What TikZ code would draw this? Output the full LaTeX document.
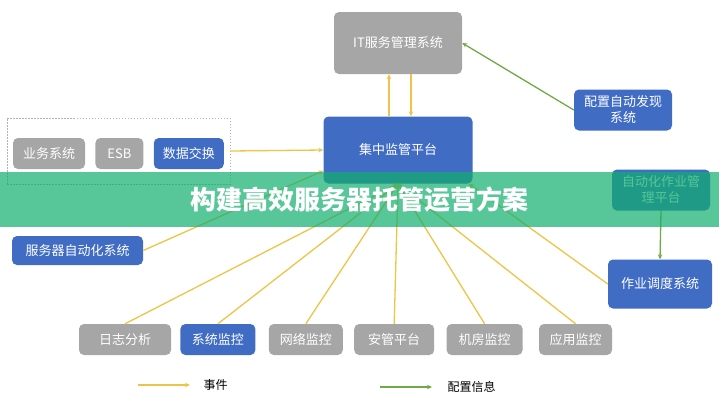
\documentclass[tikz,border=0pt]{standalone}
\usepackage{fontspec}
\usepackage{tikz}
\usetikzlibrary{arrows.meta, positioning}
\newfontfamily\cjk{Noto Sans CJK SC}
\definecolor{boxblu}{RGB}{64,108,196}
\definecolor{boxgrigio}{RGB}{166,166,166}
\definecolor{giallo}{RGB}{238,196,70}
\definecolor{verde}{RGB}{112,170,72}
\definecolor{fascia}{RGB}{16,174,108}

\begin{document}
\begin{tikzpicture}[x = 1pt, y = -1pt,
    box/.style = {rounded corners = 5pt, inner sep = 0pt, text = white, align = center,
                  font = \cjk\fontsize{13}{16}\selectfont},
    grigio/.style = {box, fill = boxgrigio},
    blu/.style = {box, fill = boxblu},
    evento/.style = {giallo, line width = 1.3pt, -{Stealth[length = 5pt, width = 4.5pt]}},
    config/.style = {verde, line width = 1.3pt, -{Stealth[length = 5pt, width = 4.5pt]}}]
    \useasboundingbox (0,0) rectangle (719,400);
    % Sistemi centrali
    \node[grigio, minimum width = 128pt, minimum height = 62pt] (it) at (398,43) {IT服务管理系统};
    \node[blu, minimum width = 149pt, minimum height = 67pt] (hub) at (398,150) {集中监管平台};
    % Riquadro tratteggiato a sinistra
    \node[draw = gray!60, dash pattern = on 1.5pt off 1.5pt, minimum width = 223pt, minimum height = 66pt] (kuang) at (118.5,151) {};
    \node[grigio, minimum width = 72pt, minimum height = 31pt] (yw) at (49,153.5) {业务系统};
    \node[grigio, minimum width = 48pt, minimum height = 31pt, right = 10pt of yw] (esb) {ESB};
    \node[blu, minimum width = 70pt, minimum height = 31pt, right = 10pt of esb] (sjjh) {数据交换};
    % Sistemi laterali
    \node[blu, minimum width = 131pt, minimum height = 29pt] (fwq) at (77.5,250.5) {服务器自动化系统};
    \node[blu, minimum width = 98pt, minimum height = 41pt] (pz) at (623,110) {配置自动发现\\系统};
    \node[blu, minimum width = 98pt, minimum height = 41pt] (zdh) at (661,190) {自动化作业管\\理平台};
    \node[blu, minimum width = 104pt, minimum height = 49pt] (zy) at (660,284) {作业调度系统};
    % Riga in basso
    \node[grigio, minimum width = 92pt, minimum height = 31pt] (rz) at (125,339.5) {日志分析};
    \node[blu, minimum width = 75pt, minimum height = 31pt, right = 9pt of rz] (xt) {系统监控};
    \node[grigio, minimum width = 74pt, minimum height = 31pt, right = 13pt of xt] (wl) {网络监控};
    \node[grigio, minimum width = 80pt, minimum height = 31pt, right = 11pt of wl] (ag) {安管平台};
    \node[grigio, minimum width = 76pt, minimum height = 31pt, right = 12pt of ag] (jf) {机房监控};
    \node[grigio, minimum width = 73pt, minimum height = 31pt, right = 16pt of jf] (yy) {应用监控};
    % Eventi
    \draw[evento] ([xshift = -9pt]hub.north) -- ([xshift = -9pt]it.south);
    \draw[evento] ([xshift = 13pt]it.south) -- ([xshift = 13pt]hub.north);
    \draw[evento] (kuang.east) -- (hub.west);
    \draw[evento] (fwq.east) -- ([yshift = 13pt]hub.south west);
    \draw[evento] (zy.west) -- ([xshift = -4pt]hub.south east);
    \foreach \n in {rz, xt, wl, ag, jf, yy}
        \draw[evento] (\n.north) -- (hub.south);
    % Configurazione
    \draw[config] (pz.west) -- (it.east);
    \draw[config] (zdh.south) -- (zy.north);
    % Legenda
    \coordinate (ev1) at (138,385);
    \coordinate (ev2) at (190,385);
    \coordinate (cf1) at (380,387);
    \coordinate (cf2) at (432,387);
    \draw[evento] (ev1) -- (ev2);
    \node[font = \cjk\fontsize{12}{14}\selectfont, right = 10pt of ev2] (lev) {事件};
    \draw[config] (cf1) -- (cf2);
    \node[font = \cjk\fontsize{12}{14}\selectfont, right = 12pt of cf2] (lcf) {配置信息};
    % Fascia del titolo
    \fill[fascia, opacity = 0.7] (0,172) rectangle (719,227);
    \node[text = white, font = \cjk\bfseries\fontsize{26}{30}\selectfont] (titolo) at (359,200) {构建高效服务器托管运营方案};
\end{tikzpicture}
\end{document}
